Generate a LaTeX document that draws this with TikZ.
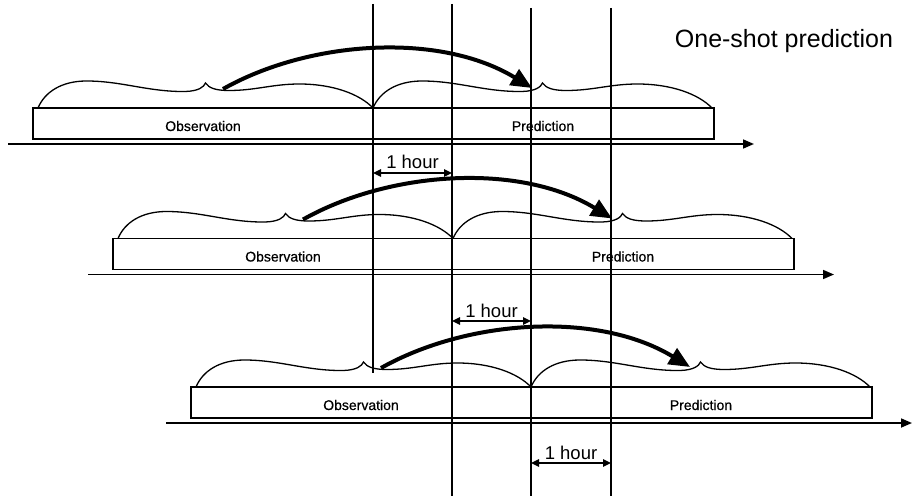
\documentclass[tikz,border=0pt]{standalone}
\usepackage{fontspec}
\setmainfont{Liberation Sans}
\newfontfamily\medfont[FakeBold=0.6]{Liberation Sans}
\usetikzlibrary{arrows.meta}
\tikzset{
  vline/.style={line width=1.5pt},
  box/.style={line width=1.8pt},
  bracel/.style={line width=1.3pt},
  axis/.style={line width=1.7pt,-{Triangle[length=11pt,width=9pt]}},
  bigarrow/.style={line width=4pt,-{Triangle[length=21pt,width=18pt]}},
  dimarrow/.style={line width=1.5pt,{Triangle[length=8pt,width=7.5pt]}-{Triangle[length=8pt,width=7.5pt]}},
  boxlabel/.style={font=\medfont\fontsize{14}{16}\selectfont, anchor=base, inner sep=0pt},
  hourlabel/.style={font=\fontsize{18.5}{20}\selectfont, anchor=base, inner sep=0pt},
  titlelabel/.style={font=\fontsize{25}{28}\selectfont, anchor=base, inner sep=0pt},
}
\newcommand\curlybrace[3]{% start x, width, base y
  \begin{scope}[shift={(#1,#3)},xscale=#2]
    \draw[bracel] (0,0) .. controls (0.02,-16) and (0.07,-27) .. (0.145,-27)
      .. controls (0.25,-27) and (0.33,-16) .. (0.44,-16.5)
      .. controls (0.48,-17) and (0.495,-21) .. (0.5,-25)
      .. controls (0.51,-20) and (0.53,-17.5) .. (0.57,-17.5)
      .. controls (0.65,-17.5) and (0.70,-24) .. (0.78,-24)
      .. controls (0.88,-24) and (0.96,-14) .. (1,0);
  \end{scope}}
\newcommand\timerow[3]{% name, dx, dy
  \begin{scope}[shift={(#2,#3)}]
    \draw[box] (33,108) rectangle (714,139);
    \node[boxlabel] (#1obs) at (203,131) {Observation};
    \node[boxlabel] (#1pred) at (543,131) {Prediction};
    \coordinate (#1a0) at (8,144);
    \coordinate (#1a1) at (754,144);
    \draw[axis] (#1a0) -- (#1a1);
    \curlybrace{38}{335}{108}
    \curlybrace{373}{339}{108}
    \coordinate (#1s) at (223,89);
    \coordinate (#1e) at (532,88);
    \draw[bigarrow] (#1s) .. controls +(87,-49) and +(-92,-56) .. (#1e);
  \end{scope}}
\begin{document}
\begin{tikzpicture}[x=1pt,y=-1pt]
  \useasboundingbox (0,0) rectangle (912,497);
  \timerow{r1}{0}{0}
  \timerow{r2}{80}{130.5}
  \timerow{r3}{158}{279}
  % vertical lines
  \coordinate (v1t) at (373,4);   \coordinate (v1b) at (373,373);
  \coordinate (v2t) at (452,4);   \coordinate (v2b) at (452,496);
  \coordinate (v3t) at (531,8);   \coordinate (v3b) at (531,496);
  \coordinate (v4t) at (611,8);   \coordinate (v4b) at (611,496);
  \draw[vline] (v1t) -- (v1b);
  \draw[vline] (v2t) -- (v2b);
  \draw[vline] (v3t) -- (v3b);
  \draw[vline] (v4t) -- (v4b);
  % one-hour markers
  \coordinate (d1a) at (373,173); \coordinate (d1b) at (452,173);
  \coordinate (d2a) at (452,321); \coordinate (d2b) at (531,321);
  \coordinate (d3a) at (531,463); \coordinate (d3b) at (611,463);
  \draw[dimarrow] (d1a) -- (d1b);
  \draw[dimarrow] (d2a) -- (d2b);
  \draw[dimarrow] (d3a) -- (d3b);
  \node[hourlabel] (h1) at (412.5,169) {1 hour};
  \node[hourlabel] (h2) at (491.5,317) {1 hour};
  \node[hourlabel] (h3) at (571,459) {1 hour};
  \node[titlelabel] (title) at (784,48) {One-shot prediction};
\end{tikzpicture}
\end{document}
